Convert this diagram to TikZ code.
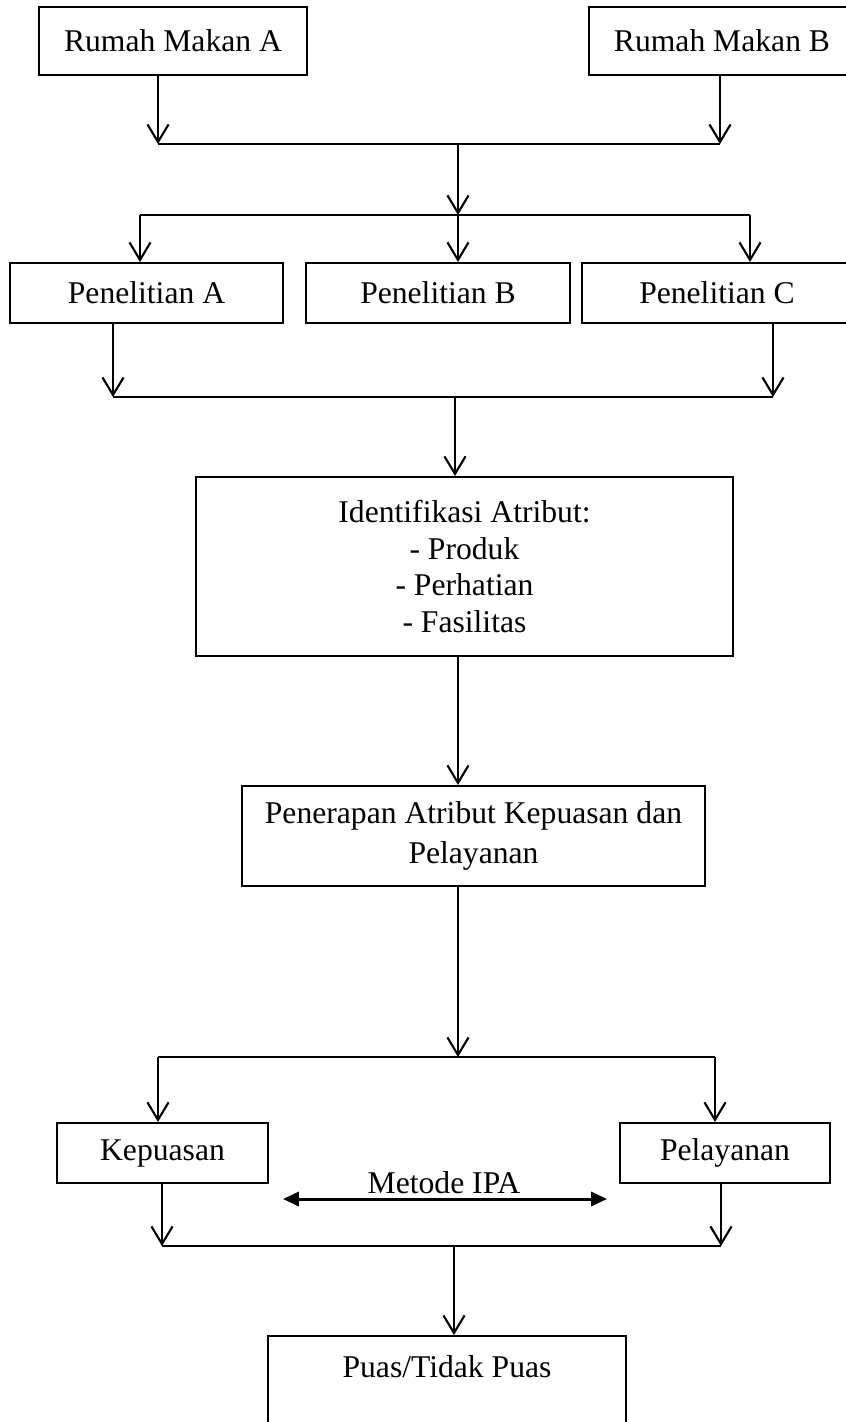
\documentclass[tikz,border=0pt]{standalone}
\usepackage{fontspec}
\setmainfont{Liberation Serif}
\usetikzlibrary{arrows.meta}

\begin{document}
\begin{tikzpicture}[x=1cm, y=-1cm,
  box/.style={draw, line width=0.6pt, inner sep=0pt, align=center, font=\fontsize{9pt}{10.5pt}\selectfont},
  arr/.style={line width=0.6pt, -{Straight Barb[length=5pt,width=6pt]}},
  link/.style={line width=0.6pt}]
\useasboundingbox (0,0) rectangle (8.45,14.22);
% boxes
\node[box, minimum width=2.68cm, minimum height=0.68cm] (rmA) at (1.73,0.41) {Rumah Makan A};
\node[box, minimum width=2.66cm, minimum height=0.68cm] (rmB) at (7.22,0.41) {Rumah Makan B};
\node[box, minimum width=2.73cm, minimum height=0.60cm] (penA) at (1.465,2.93) {Penelitian A};
\node[box, minimum width=2.64cm, minimum height=0.60cm] (penB) at (4.38,2.93) {Penelitian B};
\node[box, minimum width=2.70cm, minimum height=0.60cm] (penC) at (7.17,2.93) {Penelitian C};
\node[box, minimum width=5.37cm, minimum height=1.79cm] (ident) at (4.645,5.665) {Identifikasi Atribut:\\ - Produk\\ - Perhatian\\ - Fasilitas};
\node[box, minimum width=4.63cm, minimum height=1.00cm, font=\fontsize{9pt}{11.4pt}\selectfont] (terap) at (4.735,8.36) {Penerapan Atribut Kepuasan dan\\ Pelayanan};
\node[box, minimum width=2.11cm, minimum height=0.60cm] (kep) at (1.625,11.53) {Kepuasan};
\node[box, minimum width=2.10cm, minimum height=0.60cm] (pel) at (7.25,11.53) {Pelayanan};
\node[box, anchor=north, minimum width=3.58cm, text height=0.41cm, text depth=0.9cm] (puas) at (4.47,13.35) {Puas/Tidak Puas};
\node[font=\fontsize{9pt}{10.5pt}\selectfont, inner sep=0pt] (ipa) at (4.44,11.83) {Metode IPA};
% junctions
\coordinate (jA) at (1.58,1.44);
\coordinate (jB) at (7.20,1.44);
\coordinate (jM) at (4.58,1.44);
\coordinate (sM) at (4.58,2.15);
\coordinate (sA) at (1.40,2.15);
\coordinate (sC) at (7.50,2.15);
\coordinate (pA) at (1.13,3.97);
\coordinate (pC) at (7.73,3.97);
\coordinate (pM) at (4.55,3.97);
\coordinate (tM) at (4.58,10.57);
\coordinate (tA) at (1.58,10.57);
\coordinate (tB) at (7.15,10.57);
\coordinate (kA) at (1.62,12.46);
\coordinate (kB) at (7.21,12.46);
\coordinate (kM) at (4.54,12.46);
\coordinate (ipaL) at (2.83,11.99);
\coordinate (ipaR) at (6.07,11.99);
% connectors
\draw[arr] (rmA.south -| jA) -- (jA);
\draw[arr] (rmB.south -| jB) -- (jB);
\draw[link] (jA) -- (jB);
\draw[arr] (jM) -- (sM);
\draw[link] (sA) -- (sC);
\draw[arr] (sA) -- (penA.north -| sA);
\draw[arr] (sM) -- (penB.north -| sM);
\draw[arr] (sC) -- (penC.north -| sC);
\draw[arr] (penA.south -| pA) -- (pA);
\draw[arr] (penC.south -| pC) -- (pC);
\draw[link] (pA) -- (pC);
\draw[arr] (pM) -- (ident.north -| pM);
\draw[arr] (ident.south -| tM) -- (terap.north -| tM);
\draw[arr] (terap.south -| tM) -- (tM);
\draw[link] (tA) -- (tB);
\draw[arr] (tA) -- (kep.north -| tA);
\draw[arr] (tB) -- (pel.north -| tB);
\draw[arr] (kep.south -| kA) -- (kA);
\draw[arr] (pel.south -| kB) -- (kB);
\draw[link] (kA) -- (kB);
\draw[arr] (kM) -- (puas.north -| kM);
\draw[line width=0.85pt, {Triangle[length=4.5pt,width=4pt]}-{Triangle[length=4.5pt,width=4pt]}] (ipaL) -- (ipaR);
\end{tikzpicture}
\end{document}
